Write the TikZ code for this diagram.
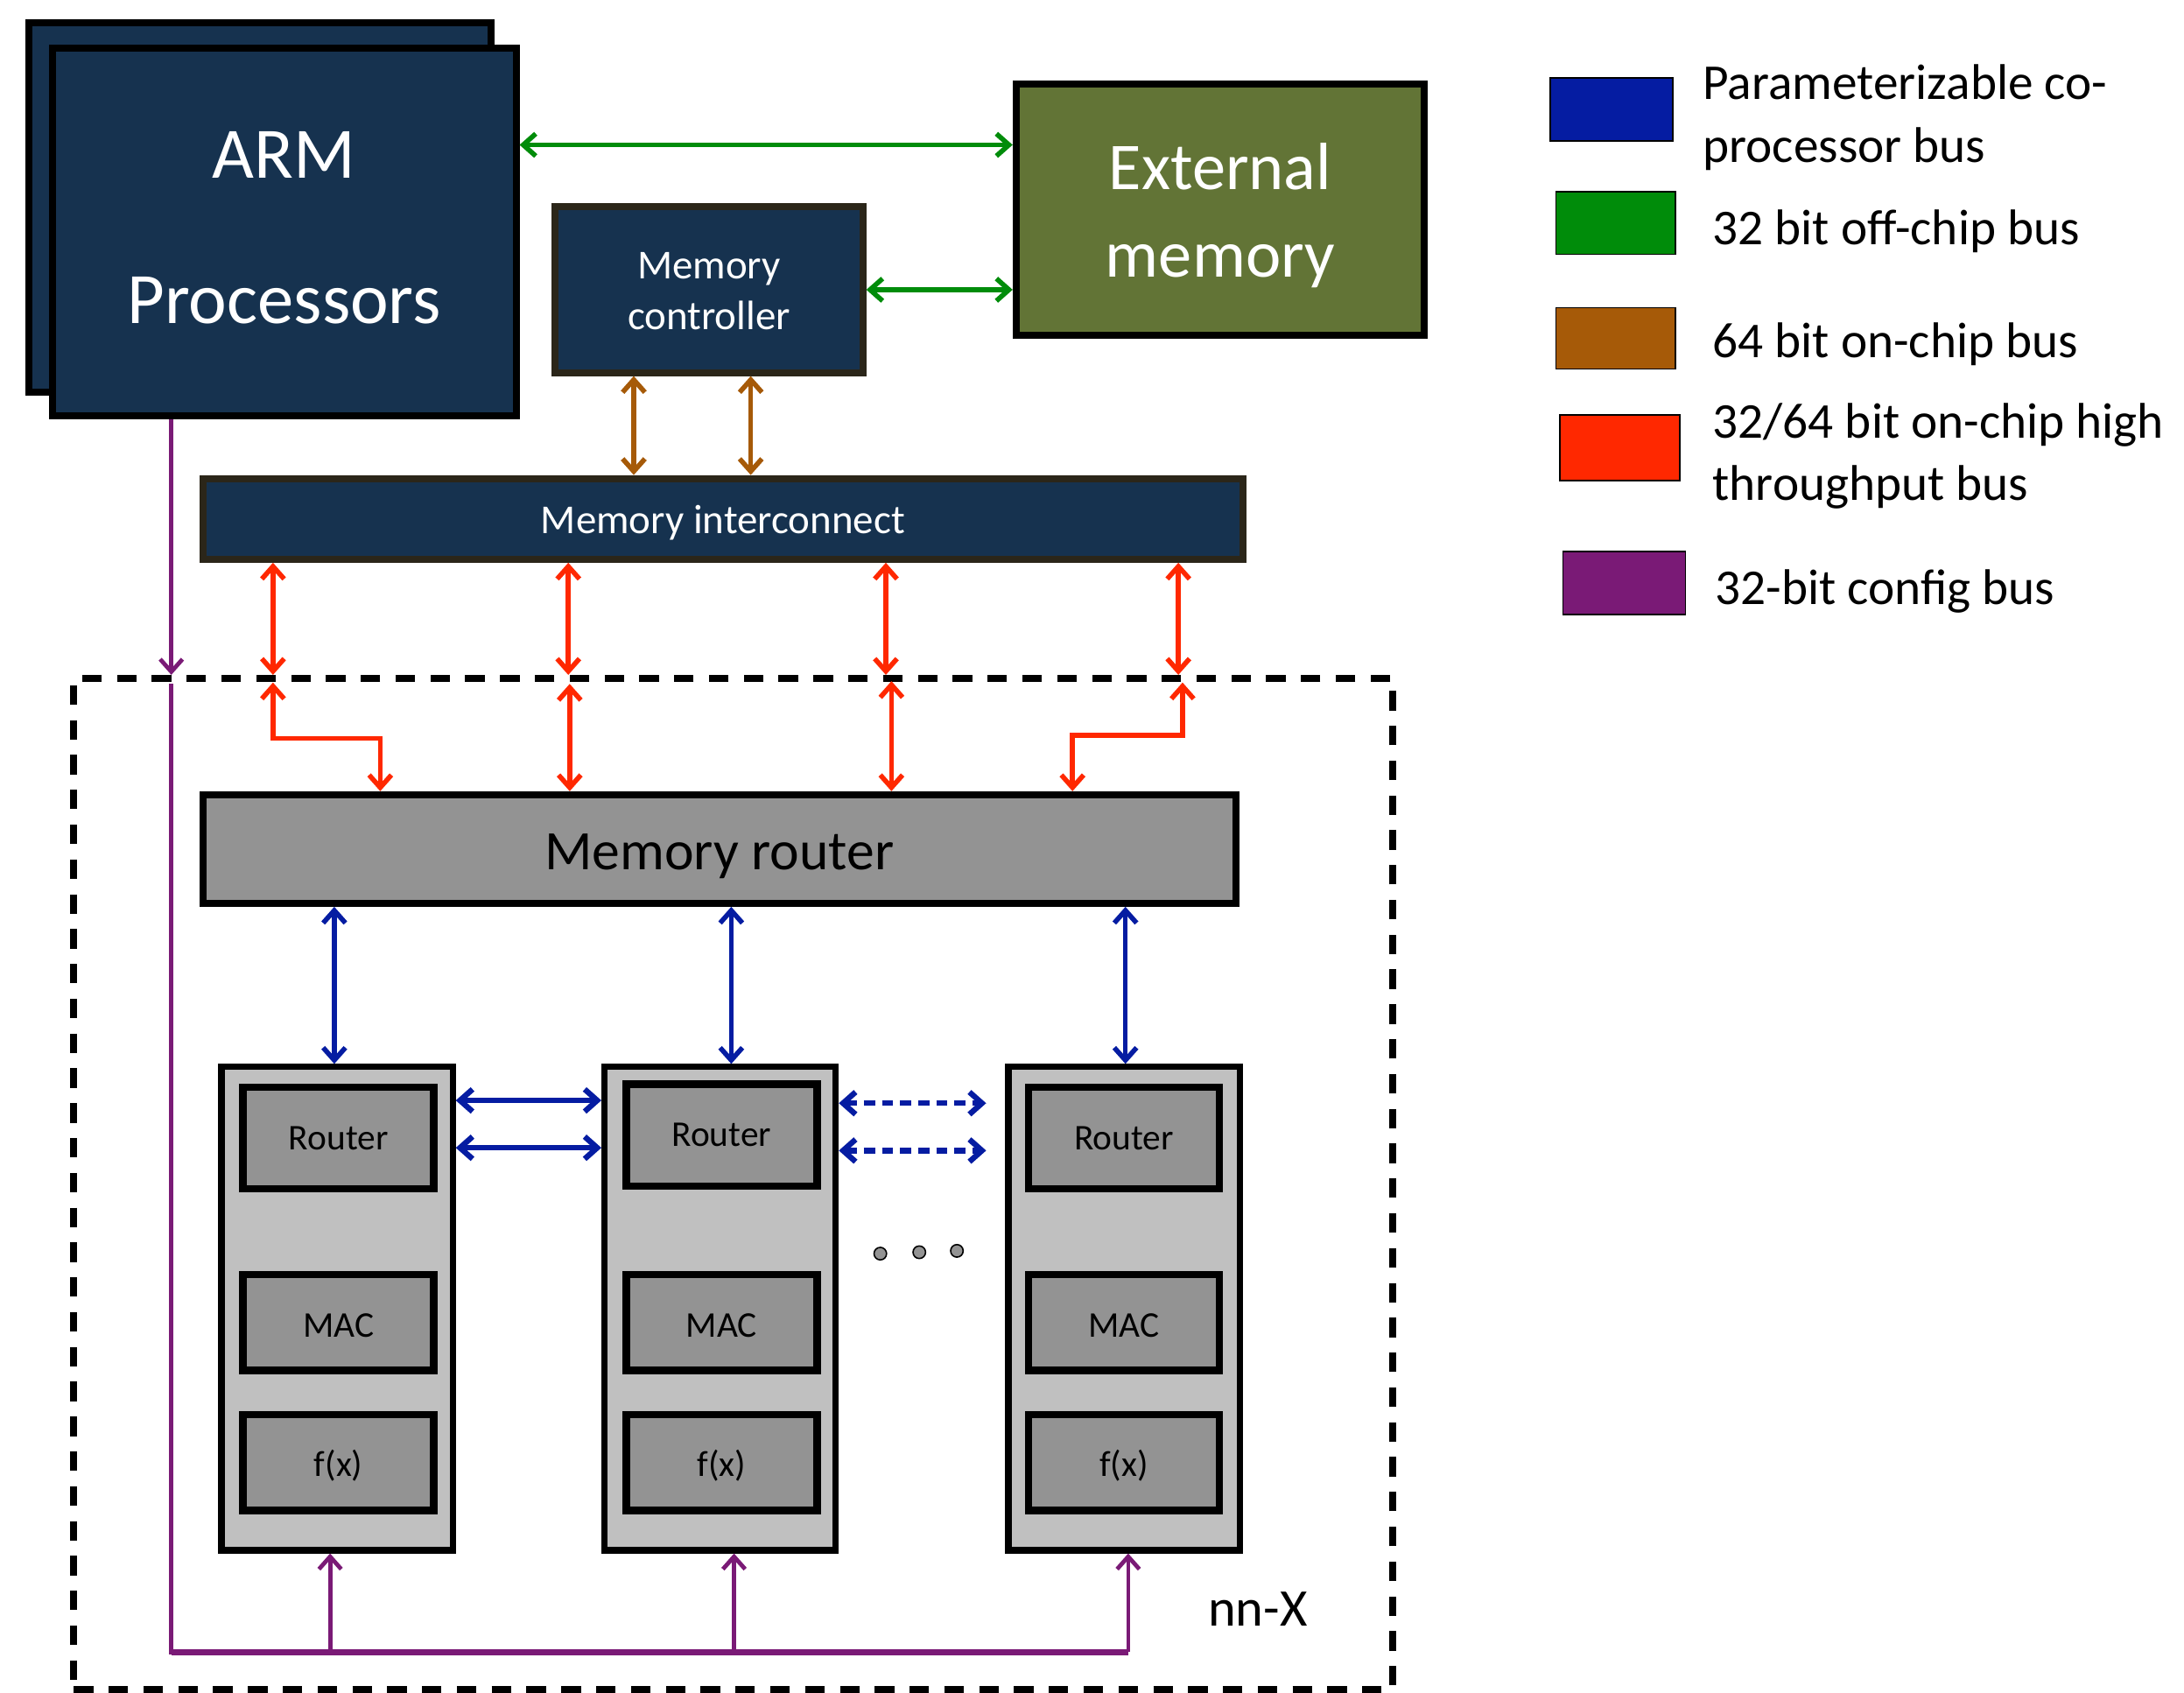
\documentclass[tikz,border=0pt]{standalone}
\usepackage{fontspec}
\setmainfont{Carlito}
\usetikzlibrary{positioning, arrows.meta}

\definecolor{armnavy}{RGB}{22,50,79}
\definecolor{extolive}{RGB}{98,116,54}
\definecolor{edgedark}{RGB}{43,38,25}
\definecolor{routergray}{RGB}{147,147,147}
\definecolor{colgray}{RGB}{192,192,192}
\definecolor{cpblue}{RGB}{5,28,162}
\definecolor{offgreen}{RGB}{0,140,10}
\definecolor{onorange}{RGB}{166,90,8}
\definecolor{hired}{RGB}{255,40,0}
\definecolor{cfgpurple}{RGB}{122,26,118}

% moves one line of a node up or down without changing its size
\newcommand{\shiftline}[2]{\raisebox{#1}[\height][\depth]{#2}}

\tikzset{
    x=1pt, y=-1pt, % one unit is one pixel of the drawing, y grows downwards
    >={Straight Barb[length=9pt, width=16pt]}, % open arrow tips on every bus
    block/.style={draw=black, line width=5pt, fill=armnavy, text=white, align=center, inner sep=0pt}, % big dark boxes
    pe/.style={draw=black, line width=4.5pt, fill=colgray, minimum width=166pt, minimum height=347pt}, % one processing column
    unit/.style={draw=black, line width=5.5pt, fill=routergray, minimum width=137pt, minimum height=69pt, font=\fontsize{26}{30}\selectfont}, % boxes inside a column
    legbox/.style={draw=black, line width=1pt, minimum width=86pt, minimum height=45pt}, % colour swatch of the key
    legtext/.style={align=left, inner sep=0pt, yshift=-6pt, font=\fontsize{36}{45}\selectfont}, % text of the key
    cpbus/.style={draw=cpblue, line width=3.5pt}, % co-processor bus
    offchip/.style={draw=offgreen, line width=3.5pt}, % off-chip bus
    onchip/.style={draw=onorange, line width=3.5pt}, % on-chip bus
    hibus/.style={draw=hired, line width=3.5pt}, % high throughput bus
    cfgbus/.style={draw=cfgpurple, line width=3pt}, % config bus
    }

\begin{document}
\begin{tikzpicture}
\useasboundingbox[fill=white] (0,0) rectangle (1568,1215);

% host side
\node[block, minimum width=332pt, minimum height=265pt] (armback) at (186.5,149) {};
\node[block, minimum width=333pt, minimum height=264pt, font=\fontsize{52}{62}\selectfont] (arm) at (204,166.5) {\shiftline{3pt}{ARM}\\[42pt]\shiftline{3pt}{Processors}};
\node[block, fill=extolive, minimum width=293pt, minimum height=180pt, font=\fontsize{48}{63}\selectfont] (ext) at (876,150.5) {\shiftline{-4pt}{External}\\\shiftline{-4pt}{memory}};
\node[block, draw=edgedark, minimum width=221pt, minimum height=119pt, font=\fontsize{29.5}{37}\selectfont] (mc) at (509,208) {\shiftline{-1pt}{Memory}\\\shiftline{-1pt}{controller}};
\node[block, draw=edgedark, minimum width=747pt, minimum height=58pt, font=\fontsize{29.5}{36}\selectfont] (ic) at (519,372.5) {\shiftline{-3pt}{Memory interconnect}};

% nn-X
\node[draw, line width=5pt, dash pattern=on 14pt off 11pt, minimum width=947pt, minimum height=726pt] (nnx) at (526.5,850) {};
\node[font=\fontsize{38}{46}\selectfont] (nnxlabel) at (903,1155) {nn-X};
\node[block, fill=routergray, text=black, minimum width=742pt, minimum height=78pt, font=\fontsize{40}{48}\selectfont] (mr) at (516.5,609.5) {\shiftline{-5pt}{Memory router}};

\node[pe] (col1) at (242,939.5) {};
\node[pe] (col2) at (517,939.5) {};
\node[pe] (col3) at (807,939.5) {};

\node[unit, minimum height=73pt] (rt1) at (243,817) {Router};
\node[unit, below=56pt of rt1] (mac1) {\shiftline{-2pt}{MAC}};
\node[unit, below=26pt of mac1] (fx1) {\shiftline{-2pt}{f(x)}};
\node[unit, minimum height=73pt] (rt2) at (518,815) {Router};
\node[unit, below=58pt of rt2] (mac2) {\shiftline{-2pt}{MAC}};
\node[unit, below=26pt of mac2] (fx2) {\shiftline{-2pt}{f(x)}};
\node[unit, minimum height=73pt] (rt3) at (807,817) {Router};
\node[unit, below=56pt of rt3] (mac3) {\shiftline{-2pt}{MAC}};
\node[unit, below=26pt of mac3] (fx3) {\shiftline{-2pt}{f(x)}};

\node[circle, draw=black, line width=1pt, fill=routergray, minimum size=9pt, inner sep=0pt] (dot1) at (632,900) {};
\node[circle, draw=black, line width=1pt, fill=routergray, minimum size=9pt, inner sep=0pt] (dot2) at (660,899) {};
\node[circle, draw=black, line width=1pt, fill=routergray, minimum size=9pt, inner sep=0pt] (dot3) at (687,898) {};

% free ends of the buses
\coordinate (gtop) at ([yshift=46.5pt]ext.west);
\coordinate (hop1) at (196,490);
\coordinate (hop2) at (409,491);
\coordinate (hop3) at (640,489);
\coordinate (hop4) at (849,490);
\coordinate (ring1) at (708,792);
\coordinate (ring2) at (708,826);
\coordinate (cfgin) at (123,491);
\coordinate (cfgcorner) at (123,1186);
\coordinate (cfgend) at (810,1186);

% off-chip
\draw[offchip, <->] (gtop -| arm.east) -- (gtop);
\draw[offchip, <->] (mc.east) -- (mc.east -| ext.west);

% on-chip
\draw[onchip, <->] (455,0 |- mc.south) -- (455,0 |- ic.north);
\draw[onchip, <->] (539,0 |- mc.south) -- (539,0 |- ic.north);

% high throughput
\draw[hibus, <->] (196,0 |- ic.south) -- (196,0 |- nnx.north);
\draw[hibus, <->] (408,0 |- ic.south) -- (408,0 |- nnx.north);
\draw[hibus, <->] (636,0 |- ic.south) -- (636,0 |- nnx.north);
\draw[hibus, <->] (846,0 |- ic.south) -- (846,0 |- nnx.north);
\draw[hibus, <->] (hop1) -- (196,530) -| (273,0 |- mr.north);
\draw[hibus, <->] (hop2) -- (hop2 |- mr.north);
\draw[hibus, <->] (hop3) -- (hop3 |- mr.north);
\draw[hibus, <->] (hop4) -- (849,528) -| (770,0 |- mr.north);

% co-processor
\draw[cpbus, <->] (240,0 |- mr.south) -- (240,0 |- col1.north);
\draw[cpbus, <->] (525,0 |- mr.south) -- (525,0 |- col2.north);
\draw[cpbus, <->] (808,0 |- mr.south) -- (808,0 |- col3.north);
\draw[cpbus, <->, line width=4pt] (col1.east |- 0,790) -- (col2.west |- 0,790);
\draw[cpbus, <->, line width=4pt] (col1.east |- 0,824) -- (col2.west |- 0,824);
\draw[cpbus, <->, line width=4pt, dash pattern=on 8pt off 5pt] (col2.east |- ring1) -- (ring1);
\draw[cpbus, <->, line width=4pt, dash pattern=on 8pt off 5pt] (col2.east |- ring2) -- (ring2);

% config
\draw[cfgbus, ->] (123,0 |- arm.south) -- (123,0 |- nnx.north);
\draw[cfgbus] (cfgin) -- (cfgcorner) -- (cfgend);
\draw[cfgbus, line width=4.5pt] (cfgcorner) -- (cfgend);
\draw[cfgbus, ->] (237,1186) -- (237,0 |- col1.south);
\draw[cfgbus, ->] (527,1186) -- (527,0 |- col2.south);
\draw[cfgbus, ->] (cfgend) -- (cfgend |- col3.south);

% key
\node[legbox, fill=cpblue, minimum width=88pt] (leg1) at (1157,78.5) {};
\node[legtext, right=21pt of leg1] (legt1) {Parameterizable co-\\processor bus};
\node[legbox, fill=offgreen] (leg2) at (1160,160) {};
\node[legtext, right=26pt of leg2] (legt2) {32 bit off-chip bus};
\node[legbox, fill=onorange, minimum height=44pt] (leg3) at (1160,243) {};
\node[legtext, right=26pt of leg3, yshift=2pt] (legt3) {64 bit on-chip bus};
\node[legbox, fill=hired, minimum height=47pt] (leg4) at (1163,321.5) {};
\node[legtext, right=23pt of leg4] (legt4) {32/64 bit on-chip high\\throughput bus};
\node[legbox, fill=cfgpurple, minimum width=88pt] (leg5) at (1166,418.5) {};
\node[legtext, right=21pt of leg5] (legt5) {32-bit config bus};
\end{tikzpicture}
\end{document}
